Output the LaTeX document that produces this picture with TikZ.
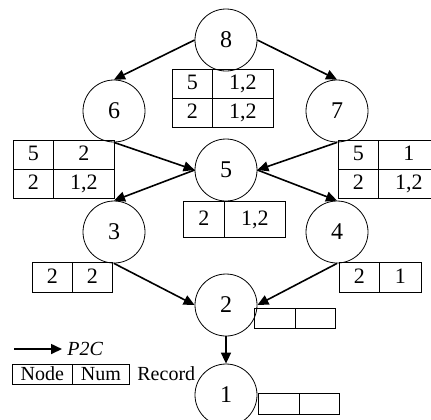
\documentclass[tikz,border=0pt]{standalone}
\usepackage{fontspec}
\setmainfont{Liberation Serif}
\usetikzlibrary{arrows.meta}
\tikzset{
    vertex/.style={draw, circle, minimum size=31pt, inner sep=0pt, font=\fontsize{12}{14}\selectfont},
    cell/.style={draw, rectangle, inner sep=0pt, anchor=north west, minimum width=20pt, minimum height=14.5pt,
        text height=1.45ex, text depth=0.2ex, font=\fontsize{11}{13}\selectfont},
    wide/.style={minimum width=30.5pt},
    key/.style={font=\fontsize{10}{12}\selectfont},
    p2c/.style={-{Triangle[length=5.5pt, width=5pt]}, thick},
}
\begin{document}
\begin{tikzpicture}[x=0.5pt, y=-0.5pt]
    \useasboundingbox (0, 0) rectangle (431, 419);

    % tree nodes
    \node [vertex] (n8) at (226, 40) {8};
    \node [vertex] (n6) at (114, 111) {6};
    \node [vertex] (n7) at (337, 111) {7};
    \node [vertex] (n5) at (226, 170) {5};
    \node [vertex] (n3) at (114, 232) {3};
    \node [vertex] (n4) at (337, 232) {4};
    \node [vertex] (n2) at (226, 305) {2};
    \node [vertex] (n1) at (226, 395) {1};

    % records
    \node [cell] (r8a) at (172, 69) {5};
    \node [cell, wide] (r8b) at (212, 69) {1,2};
    \node [cell] (r8c) at (172, 98) {2};
    \node [cell, wide] (r8d) at (212, 98) {1,2};

    \node [cell] (r6a) at (13, 140) {5};
    \node [cell, wide] (r6b) at (53, 140) {2};
    \node [cell] (r6c) at (13, 168.5) {2};
    \node [cell, wide] (r6d) at (53, 168.5) {1,2};

    \node [cell] (r7a) at (338, 140) {5};
    \node [cell, wide] (r7b) at (378, 140) {1};
    \node [cell] (r7c) at (338, 168.5) {2};
    \node [cell, wide] (r7d) at (378, 168.5) {1,2};

    \node [cell, minimum width=20.5pt, minimum height=18pt] (r5a) at (183, 201) {2};
    \node [cell, wide, minimum height=18pt] (r5b) at (224, 201) {1,2};

    \node [cell, minimum height=15pt] (r3a) at (32, 262) {2};
    \node [cell, minimum height=15pt] (r3b) at (72, 262) {2};

    \node [cell, minimum height=15pt] (r4a) at (339, 262) {2};
    \node [cell, minimum width=21pt, minimum height=15pt] (r4b) at (379, 262) {1};

    \node [cell, minimum width=20.5pt, minimum height=10pt] (r2a) at (254, 308) {};
    \node [cell, minimum height=10pt] (r2b) at (295, 308) {};

    \node [cell, minimum width=20.5pt, minimum height=10.5pt] (r1a) at (258, 393) {};
    \node [cell, minimum height=10.5pt] (r1b) at (299, 393) {};

    % P2C edges
    \draw [p2c] (n8.west) -- (n6.north);
    \draw [p2c] (n8.east) -- (n7.north);
    \draw [p2c] (n6.south) -- (n5.west);
    \draw [p2c] (n7.south) -- (n5.east);
    \draw [p2c] (n5.west) -- (n3.north);
    \draw [p2c] (n5.east) -- (n4.north);
    \draw [p2c] (n3.south) -- (n2.west);
    \draw [p2c] (n4.south) -- (n2.east);
    \draw [p2c] (n2.south) -- (n1.north);

    % legend
    \coordinate (ks) at (14, 349);
    \coordinate (ke) at (62, 349);
    \draw [p2c] (ks) -- (ke);
    \node [key, anchor=west, inner sep=0pt, font=\itshape] (kl) at (67, 349) {P2C};
    \node [cell, key, minimum width=30pt, minimum height=10pt] (kn) at (12, 364) {Node};
    \node [cell, key, minimum width=28.5pt, minimum height=10pt] (km) at (72, 364) {Num};
    \node [key, anchor=west, inner sep=0pt] (kr) at (137, 374) {Record};
\end{tikzpicture}
\end{document}
